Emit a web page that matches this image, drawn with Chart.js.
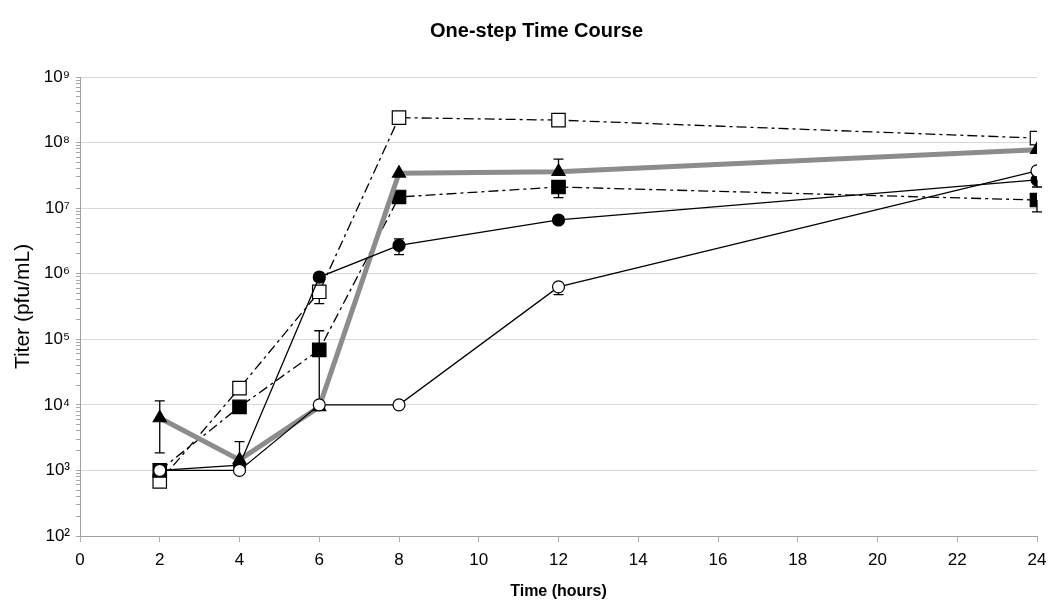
<!DOCTYPE html>
<html>
<head>
<meta charset="utf-8">
<script src="https://cdn.jsdelivr.net/npm/chart.js@4.4.1/dist/chart.umd.min.js"></script>
<style>
  html, body { margin: 0; padding: 0; background: #ffffff; }
  #wrap { width: 1050px; height: 609px; }
</style>
</head>
<body>
<div id="wrap"><canvas id="c" width="1050" height="609"></canvas></div>
<script>
// ---- data ----
const chartTitle = 'One-step Time Course';
const xTitle = 'Time (hours)';
const yTitle = 'Titer (pfu/mL)';
const hours = [2, 4, 6, 8, 12, 24];

const openCircle      = [1000, 1000, 10000, 10000, 630000, 37000000];
const openCircleLow   = [null, null, null, null, 480000, null];
const openCircleHigh  = [null, null, null, null, null, null];

const filledCircle     = [1000, 1200, 890000, 2700000, 6600000, 27000000];
const filledCircleLow  = [null, null, null, 1950000, null, 21000000];
const filledCircleHigh = [null, null, null, 3400000, null, null];

const triangle     = [6300, 1450, 9300, 34000000, 36000000, 78000000];
const triangleLow  = [1850, null, null, null, null, null];
const triangleHigh = [11500, 2750, null, null, 56000000, null];

const filledSquare     = [1000, 9300, 69000, 14800000, 21000000, 13300000];
const filledSquareLow  = [null, null, 10500, null, 14500000, 8800000];
const filledSquareHigh = [null, null, 135000, null, null, null];

const openSquare     = [680, 18000, 530000, 240000000, 220000000, 117000000];
const openSquareLow  = [null, null, 350000, null, null, null];
const openSquareHigh = [null, null, null, null, null, null];

const yTickValues = [1e2, 1e3, 1e4, 1e5, 1e6, 1e7, 1e8, 1e9];
const yTickLabels = ['10²', '10³', '10⁴', '10⁵', '10⁶', '10⁷', '10⁸', '10⁹'];
const xTickValues = [0, 2, 4, 6, 8, 10, 12, 14, 16, 18, 20, 22, 24];

// ---- build ----
const pts = arr => arr.map((v, i) => ({ x: hours[i], y: v }));
const FONT = "'Liberation Sans', Arial, sans-serif";

const errorBars = [
  { low: openCircleLow, high: openCircleHigh, vals: openCircle },
  { low: filledCircleLow, high: filledCircleHigh, vals: filledCircle },
  { low: triangleLow, high: triangleHigh, vals: triangle },
  { low: filledSquareLow, high: filledSquareHigh, vals: filledSquare },
  { low: openSquareLow, high: openSquareHigh, vals: openSquare }
];

const errorBarPlugin = {
  id: 'errorBars',
  beforeDatasetsDraw(chart) {
    const ctx = chart.ctx, xs = chart.scales.x, ys = chart.scales.y;
    ctx.save();
    ctx.strokeStyle = '#000';
    ctx.lineWidth = 1.3;
    errorBars.forEach(eb => {
      hours.forEach((h, i) => {
        const px = xs.getPixelForValue(h);
        const py = ys.getPixelForValue(eb.vals[i]);
        [eb.low[i], eb.high[i]].forEach(e => {
          if (e == null) return;
          const pe = ys.getPixelForValue(e);
          ctx.beginPath();
          ctx.moveTo(px, py); ctx.lineTo(px, pe);
          ctx.moveTo(px - 5, pe); ctx.lineTo(px + 5, pe);
          ctx.stroke();
        });
      });
    });
    ctx.restore();
  }
};

const titleShiftPlugin = {
  id: 'titleShift',
  afterLayout(chart) {
    const t = chart.titleBlock;
    if (t) { t.left += 18; t.right += 18; }
  }
};

const dsBase = { showLine: true, borderColor: '#000', pointBorderColor: '#000', pointBorderWidth: 1.2, tension: 0 };

new Chart(document.getElementById('c'), {
  type: 'scatter',
  data: {
    datasets: [
      Object.assign({}, dsBase, { label: 'open circle', data: pts(openCircle), borderWidth: 1.3,
        pointStyle: 'circle', pointRadius: 6, pointBackgroundColor: '#fff' }),
      Object.assign({}, dsBase, { label: 'filled circle', data: pts(filledCircle), borderWidth: 1.3,
        pointStyle: 'circle', pointRadius: 6, pointBackgroundColor: '#000' }),
      Object.assign({}, dsBase, { label: 'triangle', data: pts(triangle), borderWidth: 5, borderColor: '#8c8c8c',
        pointStyle: 'triangle', pointRadius: 7.5, pointBackgroundColor: '#000' }),
      Object.assign({}, dsBase, { label: 'filled square', data: pts(filledSquare), borderWidth: 1.3, borderDash: [10, 4, 3, 4],
        pointStyle: 'rect', pointRadius: 9.5, pointBackgroundColor: '#000' }),
      Object.assign({}, dsBase, { label: 'open square', data: pts(openSquare), borderWidth: 1.3, borderDash: [10, 4, 3, 4],
        pointStyle: 'rect', pointRadius: 9.5, pointBackgroundColor: '#fff' })
    ]
  },
  options: {
    responsive: false,
    animation: false,
    layout: { padding: { left: 0, right: 13, top: 0, bottom: 0 } },
    plugins: {
      legend: { display: false },
      tooltip: { enabled: false },
      title: {
        display: true, text: chartTitle, color: '#000',
        font: { family: FONT, size: 20, weight: 'bold' },
        padding: { top: 19, bottom: 34 }
      }
    },
    scales: {
      x: {
        type: 'linear', min: 0, max: 24,
        afterBuildTicks: s => { s.ticks = xTickValues.map(v => ({ value: v })); },
        afterFit: s => { s.height = 73; s.paddingRight = 0; s.paddingLeft = 0; },
        ticks: { color: '#000', font: { family: FONT, size: 17 }, padding: 8, autoSkip: false, maxRotation: 0 },
        grid: { drawOnChartArea: false, tickLength: 6, color: '#b0b0b0' },
        border: { color: '#a0a0a0', width: 1 },
        title: { display: true, text: xTitle, color: '#000', font: { family: FONT, size: 16, weight: 'bold' },
          padding: { top: 4, bottom: 8 } }
      },
      y: {
        type: 'logarithmic', min: 1e2, max: 1e9,
        afterBuildTicks: s => {
          const t = [];
          for (let d = 2; d <= 9; d++) {
            for (let m = 1; m <= 9; m++) {
              if (d === 9 && m > 1) break;
              t.push({ value: m * Math.pow(10, d), major: m === 1 });
            }
          }
          s.ticks = t;
        },
        afterFit: s => { s.width = 80; },
        ticks: {
          color: '#000', font: { family: FONT, size: 17 }, padding: 6, autoSkip: false,
          callback: v => { const i = yTickValues.indexOf(v); return i >= 0 ? yTickLabels[i] : ''; }
        },
        grid: {
          tickLength: 4,
          color: c => (c.tick && yTickValues.indexOf(c.tick.value) >= 0) ? '#d8d8d8' : 'rgba(0,0,0,0)',
          tickColor: '#a8a8a8'
        },
        border: { color: '#a0a0a0', width: 1 },
        title: { display: true, text: yTitle, color: '#000', font: { family: FONT, size: 21 },
          padding: { top: 11, bottom: 0 } }
      }
    }
  },
  plugins: [errorBarPlugin, titleShiftPlugin]
});
</script>
</body>
</html>
